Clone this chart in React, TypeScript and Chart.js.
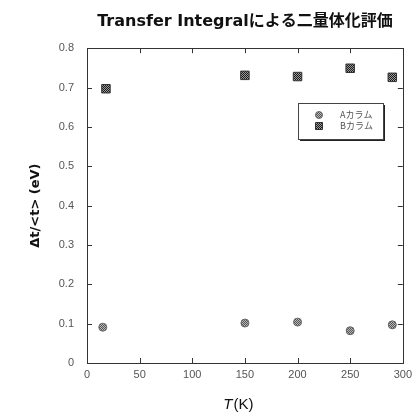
import React, { useEffect, useRef } from "react";
import { Chart, registerables } from "chart.js";

Chart.register(...registerables);

const chartTitle = "Transfer Integralによる二量体化評価";
const yAxisTitle = "Δt/<t> (eV)";
const xAxisTitleItalic = "T";
const xAxisTitleRest = "(K)";

const seriesLabels = ["Aカラム", "Bカラム"];
const temperaturesA = [15, 150, 200, 250, 290];
const valuesA = [0.091, 0.1015, 0.104, 0.082, 0.097];
const temperaturesB = [18, 150, 200, 250, 290];
const valuesB = [0.697, 0.731, 0.728, 0.749, 0.726];

const xMin = 0, xMax = 300, xStep = 50;
const yMin = 0, yMax = 0.8, yStep = 0.1;

function makePattern(c1: string, c2: string): CanvasPattern | string {
  const off = document.createElement("canvas");
  off.width = 2;
  off.height = 2;
  const g = off.getContext("2d");
  if (!g) return c1;
  g.fillStyle = c1;
  g.fillRect(0, 0, 2, 2);
  g.fillStyle = c2;
  g.fillRect(0, 0, 1, 1);
  g.fillRect(1, 1, 1, 1);
  const p = g.createPattern(off, "repeat");
  return p || c1;
}

const framePlugin = {
  id: "frameAndTicks",
  afterDraw(chart: any) {
    const { ctx, chartArea, scales } = chart;
    const { left, right, top, bottom } = chartArea;
    ctx.save();
    ctx.strokeStyle = "#333";
    ctx.lineWidth = 1;
    ctx.strokeRect(Math.round(left) + 0.5, Math.round(top) + 0.5, Math.round(right - left), Math.round(bottom - top));
    const tl = 5;
    ctx.beginPath();
    scales.x.ticks.forEach((t: any) => {
      const px = Math.round(scales.x.getPixelForValue(t.value)) + 0.5;
      ctx.moveTo(px, bottom);
      ctx.lineTo(px, bottom - tl);
      ctx.moveTo(px, top);
      ctx.lineTo(px, top + tl);
    });
    scales.y.ticks.forEach((t: any) => {
      const py = Math.round(scales.y.getPixelForValue(t.value)) + 0.5;
      ctx.moveTo(left, py);
      ctx.lineTo(left + tl, py);
      ctx.moveTo(right, py);
      ctx.lineTo(right - tl, py);
    });
    ctx.stroke();

    // x axis title with italic T
    const cx = (left + right) / 2 - 7;
    const cy = 405;
    ctx.fillStyle = "#111";
    ctx.textBaseline = "middle";
    ctx.font = "italic 15px 'Liberation Sans', 'DejaVu Sans'";
    const w1 = ctx.measureText(xAxisTitleItalic).width;
    ctx.font = "15px 'Liberation Sans', 'DejaVu Sans'";
    const w2 = ctx.measureText(xAxisTitleRest).width;
    const sx = cx - (w1 + w2) / 2;
    ctx.font = "italic 15px 'Liberation Sans', 'DejaVu Sans'";
    ctx.textAlign = "left";
    ctx.fillText(xAxisTitleItalic, sx, cy);
    ctx.font = "15px 'Liberation Sans', 'DejaVu Sans'";
    ctx.fillText(xAxisTitleRest, sx + w1 + 1, cy);

    // legend box
    const bx = 298, by = 103, bw = 85, bh = 36;
    ctx.fillStyle = "#222";
    ctx.fillRect(bx + 2, by + 2, bw, bh);
    ctx.fillStyle = "#fff";
    ctx.fillRect(bx, by, bw, bh);
    ctx.strokeStyle = "#444";
    ctx.strokeRect(bx + 0.5, by + 0.5, bw, bh);
    chart.data.datasets.forEach((ds: any, i: number) => {
      const my = by + 12 + i * 11;
      const mx = bx + 21;
      ctx.fillStyle = ds.backgroundColor;
      ctx.strokeStyle = ds.borderColor;
      ctx.lineWidth = 1;
      ctx.beginPath();
      if (ds.pointStyle === "rect") {
        ctx.rect(mx - 3.5, my - 3.5, 7, 7);
      } else {
        ctx.arc(mx, my, 3.5, 0, Math.PI * 2);
      }
      ctx.fill();
      ctx.stroke();
      ctx.fillStyle = "#555";
      ctx.font = "9px 'Noto Sans CJK JP', 'DejaVu Sans'";
      ctx.textAlign = "left";
      ctx.textBaseline = "middle";
      ctx.fillText(ds.label, bx + 42, my);
    });
    ctx.restore();
  },
};

export default function App() {
  const ref = useRef<HTMLCanvasElement | null>(null);
  useEffect(() => {
    if (!ref.current) return;
    const circleFill = makePattern("#b8b8b8", "#555");
    const squareFill = makePattern("#9a9a9a", "#1a1a1a");
    const chart = new Chart(ref.current, {
      type: "scatter",
      data: {
        datasets: [
          {
            label: seriesLabels[0],
            data: temperaturesA.map((t, i) => ({ x: t, y: valuesA[i] })),
            pointStyle: "circle",
            pointRadius: 4,
            backgroundColor: circleFill as any,
            borderColor: "#666",
            borderWidth: 1,
          },
          {
            label: seriesLabels[1],
            data: temperaturesB.map((t, i) => ({ x: t, y: valuesB[i] })),
            pointStyle: "rect",
            pointRadius: 6,
            backgroundColor: squareFill as any,
            borderColor: "#333",
            borderWidth: 1,
          },
        ],
      },
      options: {
        responsive: false,
        animation: false,
        layout: { padding: { left: 0, right: 11, top: 0, bottom: 0 } },
        plugins: {
          legend: { display: false },
          tooltip: { enabled: false },
          title: {
            display: true,
            text: chartTitle,
            fullSize: false,
            color: "#111",
            font: { family: "'DejaVu Sans', 'Noto Sans CJK JP'", size: 16, weight: "bold" },
            padding: { top: 12, bottom: 17 },
          },
        },
        scales: {
          x: {
            type: "linear",
            min: xMin,
            max: xMax,
            ticks: {
              stepSize: xStep,
              padding: 5,
              color: "#555",
              font: { family: "'Liberation Sans', 'DejaVu Sans'", size: 11 },
            },
            grid: { display: false, drawTicks: false },
            border: { display: false },
            afterFit: (s: any) => {
              s.height = 54;
            },
          },
          y: {
            type: "linear",
            min: yMin,
            max: yMax,
            ticks: {
              stepSize: yStep,
              padding: 13,
              color: "#555",
              font: { family: "'Liberation Sans', 'DejaVu Sans'", size: 11 },
            },
            grid: { display: false, drawTicks: false },
            border: { display: false },
            title: {
              display: true,
              text: yAxisTitle,
              color: "#111",
              font: { family: "'DejaVu Sans'", size: 13, weight: "bold" },
              padding: { top: 28, bottom: 0 },
            },
            afterFit: (s: any) => {
              s.width = 87;
            },
          },
        },
      },
      plugins: [framePlugin],
    });
    return () => chart.destroy();
  }, []);
  return (
    <div style={{ position: "fixed", left: 0, top: 0, width: 417, height: 417, background: "#fff" }}>
      <canvas ref={ref} width={417} height={417} style={{ width: 417, height: 417, display: "block" }} />
    </div>
  );
}
